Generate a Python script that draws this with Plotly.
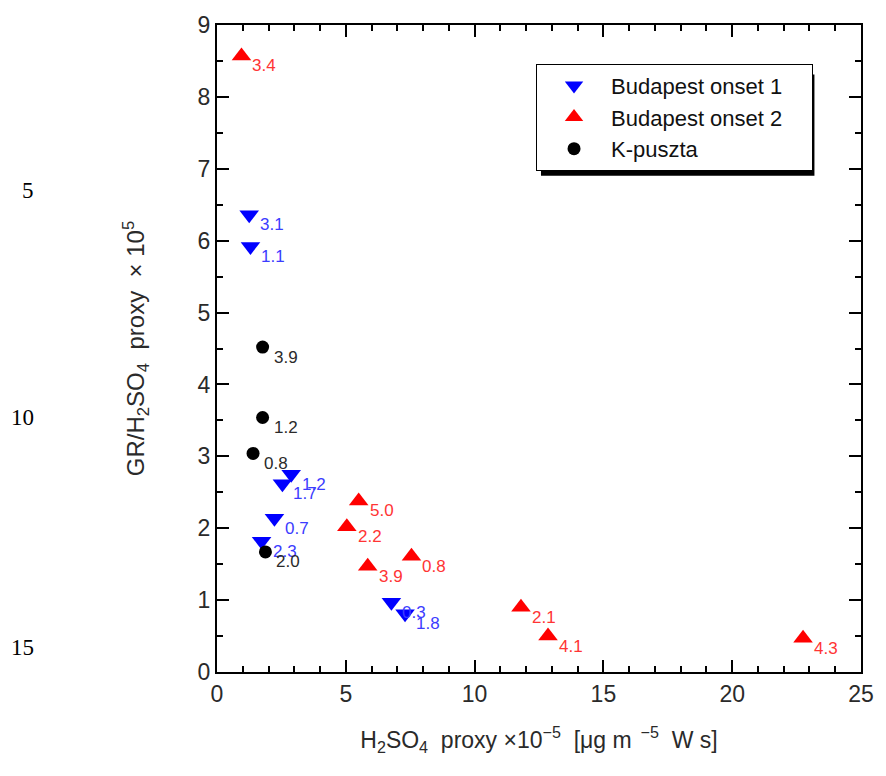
import plotly.graph_objects as go

# Budapest onset 1 (blue, down triangles)
b1_x = [1.25, 1.3, 2.88, 2.54, 2.23, 1.73, 6.77, 7.3]
b1_y = [6.36, 5.92, 2.75, 2.62, 2.14, 1.82, 0.97, 0.81]
b1_lab = ["3.1", "1.1", "1.2", "1.7", "0.7", "2.3", "0.3", "1.8"]

# Budapest onset 2 (red, up triangles)
b2_x = [0.95, 5.5, 5.04, 5.85, 7.55, 11.8, 12.85, 22.75]
b2_y = [8.57, 2.38, 2.02, 1.47, 1.61, 0.9, 0.5, 0.47]
b2_lab = ["3.4", "5.0", "2.2", "3.9", "0.8", "2.1", "4.1", "4.3"]

# K-puszta (black circles)
k_x = [1.77, 1.77, 1.4, 1.88]
k_y = [4.52, 3.54, 3.04, 1.67]
k_lab = ["3.9", "1.2", "0.8", "2.0"]

line_numbers = ["5", "10", "15"]

FONT = "Liberation Sans, Arial, sans-serif"
NB = "\u00a0"
PAD = NB * 4

fig = go.Figure()
series = [
    (b1_x, b1_y, b1_lab, "Budapest onset 1", "triangle-down", 17, "#0000ff", "#3c3cff"),
    (b2_x, b2_y, b2_lab, "Budapest onset 2", "triangle-up", 17, "#ff0000", "#ff3434"),
    (k_x, k_y, k_lab, "K-puszta", "circle", 13, "#000000", "#2a2a2a"),
]
for xs, ys, labs, name, sym, sz, col, tcol in series:
    fig.add_trace(go.Scatter(
        x=xs, y=ys, mode="markers", name=name + PAD,
        marker=dict(symbol=sym, size=sz, color=col, line=dict(width=0))))
    for xv, yv, lab in zip(xs, ys, labs):
        fig.add_annotation(x=xv, y=yv, text=lab, showarrow=False,
                           xanchor="left", yanchor="middle", xshift=9, yshift=-10,
                           font=dict(family=FONT, size=17, color=tcol))

axis_common = dict(
    showline=True, linecolor="black", linewidth=2, mirror="allticks",
    ticks="inside", ticklen=12, tickwidth=2, tickcolor="black",
    showgrid=False, zeroline=False, tickmode="linear",
    tickfont=dict(family=FONT, size=23, color="#2a2a2a"),
)

xtitle = (f"H<sub>2</sub>SO<sub>4</sub>{NB}{NB}proxy{NB}×10<sup>−5</sup>{NB}{NB}"
          f"[μg{NB}m<sup>{NB}{NB}−5</sup>{NB}{NB}W{NB}s]")
ytitle = f"GR/H<sub>2</sub>SO<sub>4</sub>{NB}{NB}proxy{NB}{NB}×{NB}10<sup>5</sup>"

fig.update_xaxes(range=[0, 25], dtick=5, tick0=0,
                 minor=dict(dtick=1, tick0=0, ticks="inside", ticklen=6, tickwidth=2, tickcolor="black"),
                 title=dict(text=xtitle, font=dict(family=FONT, size=23, color="#2a2a2a"), standoff=26),
                 **axis_common)
fig.update_yaxes(range=[0, 9], dtick=1, tick0=0,
                 minor=dict(dtick=0.5, tick0=0, ticks="inside", ticklen=6, tickwidth=2, tickcolor="black"),
                 title=dict(text=ytitle, font=dict(family=FONT, size=24, color="#2a2a2a"), standoff=46),
                 **axis_common)

# legend shadow
fig.add_shape(type="rect", xref="paper", yref="paper",
              x0=(544 - 217) / 650, x1=(820 - 217) / 650,
              y0=(672 - 172) / 652, y1=(672 - 70) / 652,
              fillcolor="black", line=dict(width=0), layer="below")

for t, ypix in zip(line_numbers, [187, 416, 647]):
    fig.add_annotation(text=t, xref="paper", yref="paper",
                       x=(34 - 217) / 650, y=(672 - ypix) / 652,
                       showarrow=False, xanchor="right", yanchor="middle",
                       font=dict(family="Liberation Serif, Times New Roman, serif", size=23, color="black"))

fig.update_layout(
    width=886, height=776,
    margin=dict(l=217, r=19, t=20, b=104),
    plot_bgcolor="white", paper_bgcolor="white",
    showlegend=True,
    legend=dict(x=(539 - 217) / 650, y=(672 - 59) / 652, xanchor="left", yanchor="top",
                bgcolor="white", bordercolor="black", borderwidth=1,
                font=dict(family=FONT, size=22, color="#111111"),
                itemsizing="trace", itemwidth=64, tracegroupgap=0),
)

fig.write_html("out.html")
